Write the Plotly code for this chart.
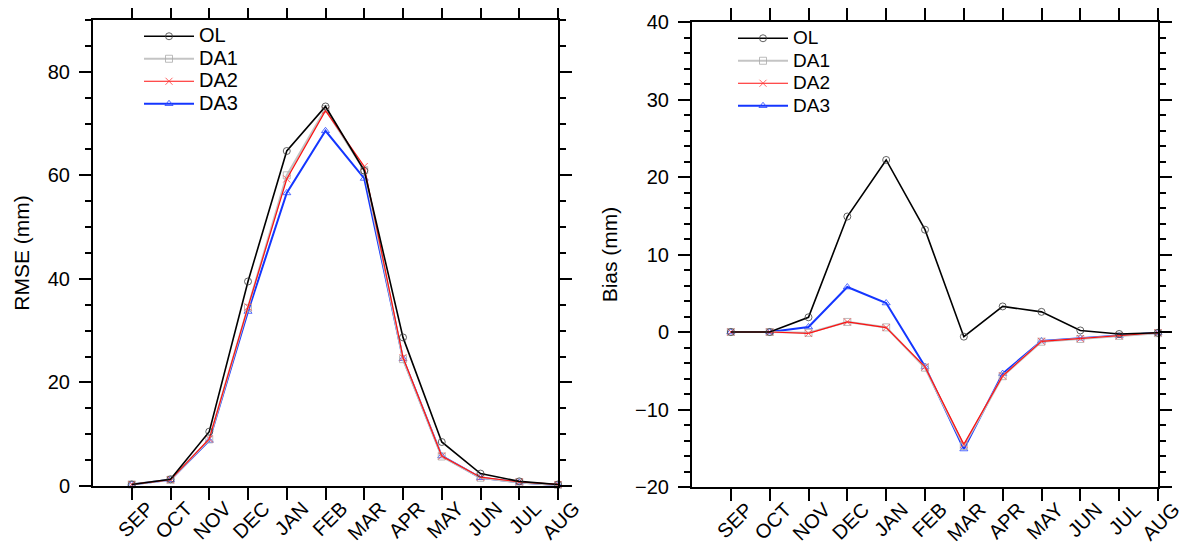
import plotly.graph_objects as go

months = ["SEP", "OCT", "NOV", "DEC", "JAN", "FEB", "MAR", "APR", "MAY", "JUN", "JUL", "AUG"]
series_names = ["OL", "DA1", "DA2", "DA3"]

rmse_ol = [0.3, 1.3, 10.5, 39.5, 64.7, 73.3, 60.9, 28.7, 8.5, 2.4, 0.9, 0.3]
rmse_da1 = [0.3, 1.2, 9.0, 34.4, 60.0, 72.8, 61.0, 24.5, 5.7, 1.6, 0.7, 0.2]
rmse_da2 = [0.3, 1.2, 9.1, 34.6, 59.3, 72.5, 61.7, 24.8, 5.8, 1.7, 0.8, 0.3]
rmse_da3 = [0.3, 1.2, 8.8, 33.7, 56.6, 68.6, 59.4, 24.6, 5.8, 1.6, 0.7, 0.2]

bias_ol = [0.0, 0.0, 1.9, 14.9, 22.2, 13.2, -0.6, 3.3, 2.6, 0.2, -0.25, -0.1]
bias_da1 = [0.0, 0.0, -0.1, 1.3, 0.6, -4.6, -14.7, -5.7, -1.25, -0.9, -0.5, -0.15]
bias_da2 = [0.0, 0.0, -0.17, 1.3, 0.57, -4.5, -14.5, -5.67, -1.2, -0.85, -0.5, -0.1]
bias_da3 = [0.0, 0.0, 0.65, 5.8, 3.74, -4.46, -15.1, -5.37, -1.16, -0.8, -0.47, -0.1]

FONT = "Liberation Sans, Arial, sans-serif"

styles = {
    "OL": dict(color="black", width=1.6, symbol="circle-open", mcolor="rgba(60,60,60,0.8)"),
    "DA1": dict(color="#c4c4c4", width=2.2, symbol="square-open", mcolor="rgba(170,170,170,0.8)"),
    "DA2": dict(color="#ff1010", width=1.2, symbol="x-thin-open", mcolor="rgba(255,60,60,0.8)"),
    "DA3": dict(color="#1436ff", width=2.0, symbol="triangle-up-open", mcolor="rgba(40,70,255,0.8)"),
}
rank = {"OL": 1, "DA1": 2, "DA2": 3, "DA3": 4}

fig = go.Figure()

def add(name, y, xa, ya, legend, fs):
    s = styles[name]
    fig.add_trace(go.Scatter(
        x=months, y=y, name=f"<span style='font-size:{fs}px'>{name}</span>",
        mode="lines+markers",
        line=dict(color=s["color"], width=s["width"]),
        marker=dict(symbol=s["symbol"], size=7, color=s["mcolor"],
                    line=dict(color=s["mcolor"], width=1)),
        xaxis=xa, yaxis=ya, legend=legend, legendrank=rank[name],
        cliponaxis=False,
    ))

left = {"OL": rmse_ol, "DA1": rmse_da1, "DA2": rmse_da2, "DA3": rmse_da3}
right = {"OL": bias_ol, "DA1": bias_da1, "DA2": bias_da2, "DA3": bias_da3}
for n in ["DA3", "DA1", "DA2", "OL"]:
    add(n, left[n], "x", "y", "legend", 20)
for n in ["DA3", "DA1", "DA2", "OL"]:
    add(n, right[n], "x2", "y2", "legend2", 19)

# page has an 8px body margin; figure sized to fit the window
OFF = 8
W, H = 1190 - OFF, 544 - OFF

def px_x(p):
    return (p - OFF) / W

def px_y(p):
    return 1 - (p - OFF) / H

xcommon = dict(
    type="category", categoryorder="array", categoryarray=months,
    range=[-1, 11], showline=True, linecolor="black", linewidth=2,
    mirror="allticks", ticks="outside", ticklen=12, tickwidth=2, tickcolor="black",
    tickangle=-45, tickfont=dict(family=FONT, size=20, color="black"),
    ticklabelstandoff=-11, ticklabelshift=16,
    showgrid=False, zeroline=False, automargin=False,
)
ycommon = dict(
    showline=True, linecolor="black", linewidth=2,
    mirror="allticks", ticks="outside", ticklen=12, tickwidth=2, tickcolor="black",
    tickfont=dict(family=FONT, size=20, color="black"),
    showgrid=False, zeroline=False, ticklabelstandoff=5, automargin=False,
)

fig.update_layout(
    width=W, height=H,
    margin=dict(l=0, r=0, t=0, b=0),
    paper_bgcolor="white", plot_bgcolor="white",
    showlegend=True,
    xaxis=dict(domain=[px_x(93), px_x(558)], anchor="y", **xcommon),
    xaxis2=dict(domain=[px_x(692), px_x(1158)], anchor="y2", **xcommon),
    yaxis=dict(domain=[px_y(486), px_y(20)], anchor="x", range=[0, 90],
               tick0=0, dtick=20,
               minor=dict(dtick=5, ticklen=6, tickwidth=1.5, tickcolor="black", ticks="outside"),
               title=dict(text="RMSE (mm)", font=dict(family=FONT, size=21, color="black"), standoff=12),
               **ycommon),
    yaxis2=dict(domain=[px_y(487), px_y(22)], anchor="x2", range=[-20, 40],
                tick0=0, dtick=10,
                minor=dict(dtick=2, ticklen=6, tickwidth=1.5, tickcolor="black", ticks="outside"),
                title=dict(text="Bias (mm)", font=dict(family=FONT, size=21, color="black"), standoff=12),
                **ycommon),
    legend=dict(x=px_x(139), y=px_y(20), xanchor="left", yanchor="top",
                bgcolor="rgba(0,0,0,0)", borderwidth=0, itemwidth=50,
                font=dict(family=FONT, size=15, color="black"),
                tracegroupgap=0, traceorder="normal"),
    legend2=dict(x=px_x(733), y=px_y(22), xanchor="left", yanchor="top",
                 bgcolor="rgba(0,0,0,0)", borderwidth=0, itemwidth=50,
                 font=dict(family=FONT, size=15, color="black"),
                 tracegroupgap=0, traceorder="normal"),
)

fig.write_html("out.html")
